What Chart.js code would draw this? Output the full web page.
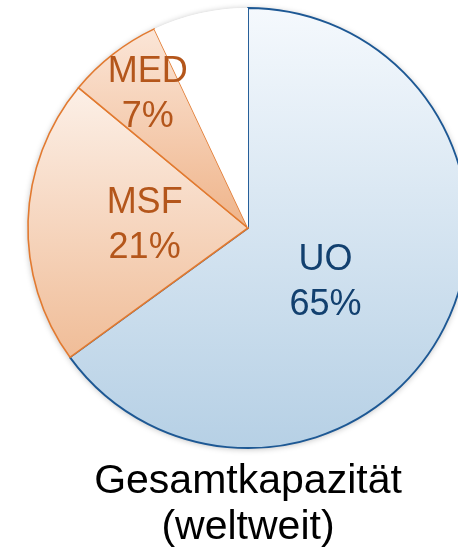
<!DOCTYPE html>
<html lang="de">
<head>
    <meta charset="UTF-8">
    <title>Gesamtkapazität (weltweit)</title>
    <script src="https://cdn.jsdelivr.net/npm/chart.js"></script>
    <style>
        html, body { margin: 0; padding: 0; overflow: hidden; background: #fff; }
    </style>
</head>
<body>

    <canvas id="pieChart" width="496" height="551"></canvas>

    <script>
        // Data
        const labels = ["UO", "MSF", "MED", ""];
        const shares = [65, 21, 7, 7];
        const titleLines = ["Gesamtkapazität", "(weltweit)"];

        // look per slice: gradient top/bottom colour, gradient span (fraction of radius), border, text colour
        const gradTop = ["#f5f9fd", "#fcefe6", "#fbe6d8", "#ffffff"];
        const gradBottom = ["#b6d0e5", "#f0bd98", "#efb48a", "#ffffff"];
        const gradSpan = [[-1, 1], [-0.62, 0.58], [-0.91, 0]];
        const borderColors = ["#1d5894", "#e27a30", "#e27a30", "rgba(0,0,0,0)"];
        const textColors = ["#12406f", "#b4561b", "#b4561b"];
        // label placement: fraction of radius, angle shift in degrees
        const labelPlace = [[0.43, 8], [0.47, 0], [0.76, 1]];

        function sliceFill(context) {
            const i = context.dataIndex;
            const chart = context.chart;
            const area = chart.chartArea;
            if (!area || i >= gradSpan.length) return gradTop[i];
            const cy = (area.top + area.bottom) / 2;
            const r = Math.min(area.width, area.height) / 2;
            const g = chart.ctx.createLinearGradient(0, cy + gradSpan[i][0] * r, 0, cy + gradSpan[i][1] * r);
            g.addColorStop(0, gradTop[i]);
            g.addColorStop(1, gradBottom[i]);
            return g;
        }

        // soft shadow under the whole pie
        const pieShadow = {
            id: "pieShadow",
            beforeDatasetsDraw(chart) {
                const arc = chart.getDatasetMeta(0).data[0];
                if (!arc) return;
                const ctx = chart.ctx;
                ctx.save();
                ctx.shadowColor = "rgba(0,0,0,0.28)";
                ctx.shadowBlur = 6;
                ctx.shadowOffsetY = 1;
                ctx.fillStyle = "#ffffff";
                ctx.beginPath();
                ctx.arc(arc.x, arc.y, arc.outerRadius, 0, Math.PI * 2);
                ctx.fill();
                ctx.restore();
            }
        };

        // two-line labels inside the slices
        const sliceLabels = {
            id: "sliceLabels",
            afterDatasetsDraw(chart) {
                const ctx = chart.ctx;
                const total = shares.reduce((a, b) => a + b, 0);
                chart.getDatasetMeta(0).data.forEach((arc, i) => {
                    if (!labels[i]) return;
                    const mid = (arc.startAngle + arc.endAngle) / 2 + labelPlace[i][1] * Math.PI / 180;
                    const d = arc.outerRadius * labelPlace[i][0];
                    const x = arc.x + Math.cos(mid) * d;
                    const y = arc.y + Math.sin(mid) * d;
                    ctx.save();
                    ctx.font = "36px 'Liberation Sans', Arial, sans-serif";
                    ctx.fillStyle = textColors[i];
                    ctx.textAlign = "center";
                    ctx.textBaseline = "middle";
                    ctx.fillText(labels[i], x, y - 22);
                    ctx.fillText(Math.round(shares[i] / total * 100) + "%", x, y + 23);
                    ctx.restore();
                });
            }
        };

        const ctx = document.getElementById("pieChart").getContext("2d");

        new Chart(ctx, {
            type: "pie",
            data: {
                labels: labels,
                datasets: [{
                    data: shares,
                    backgroundColor: sliceFill,
                    borderColor: borderColors,
                    borderWidth: [1.9, 1.6, 1.6, 0],
                    borderJoinStyle: "round",
                    hoverOffset: 0
                }]
            },
            options: {
                responsive: false,
                animation: false,
                layout: { padding: { top: 7, left: 7, right: 7, bottom: 0 } },
                plugins: {
                    legend: { display: false },
                    tooltip: { enabled: false },
                    title: {
                        display: true,
                        position: "bottom",
                        text: titleLines,
                        color: "#000",
                        font: { family: "'Liberation Sans', Arial, sans-serif", size: 41, weight: "normal", lineHeight: "46px" },
                        padding: { top: 10, bottom: 0 }
                    }
                }
            },
            plugins: [pieShadow, sliceLabels]
        });
    </script>

</body>
</html>
